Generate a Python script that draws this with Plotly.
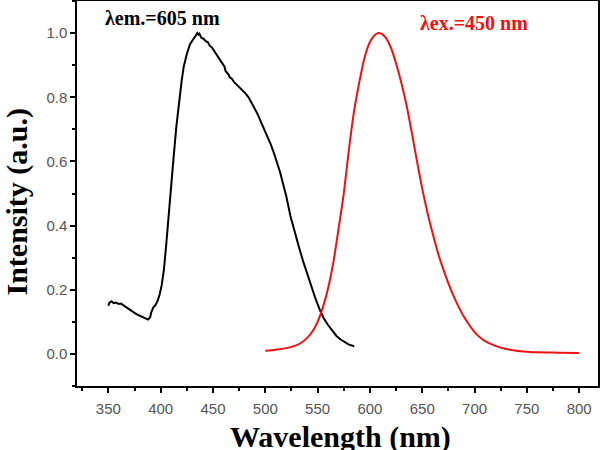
import plotly.graph_objects as go

# Excitation spectrum (black), monitored at 605 nm
black_x = [350, 351, 353, 355, 357, 360, 362, 365, 368, 371, 375, 378, 381, 384, 386, 388,
           390, 391, 393, 395, 397, 399, 401, 403, 405, 407, 409, 412, 415, 418, 420, 422,
           425, 428, 431, 433, 435, 436, 437, 439, 441, 443, 445, 447, 449, 451, 453, 455,
           457, 459, 461, 462, 464, 465, 466, 468, 470, 472, 475, 478, 481, 484, 487, 490,
           493, 496, 499, 502, 505, 508, 511, 514, 517, 520, 524, 528, 532, 536, 540, 544,
           548, 552, 556, 560, 564, 568, 572, 576, 580, 585]
black_y = [0.150, 0.160, 0.164, 0.158, 0.160, 0.156, 0.157, 0.150, 0.142, 0.135, 0.128, 0.122,
           0.118, 0.112, 0.110, 0.107, 0.115, 0.130, 0.145, 0.152, 0.165, 0.185, 0.215, 0.260,
           0.330, 0.400, 0.480, 0.600, 0.710, 0.800, 0.850, 0.895, 0.935, 0.965, 0.982, 0.990,
           1.000, 0.995, 0.998, 0.985, 0.982, 0.975, 0.972, 0.960, 0.955, 0.945, 0.935, 0.928,
           0.915, 0.905, 0.895, 0.882, 0.875, 0.870, 0.862, 0.858, 0.848, 0.842, 0.832, 0.822,
           0.812, 0.800, 0.782, 0.762, 0.745, 0.722, 0.700, 0.680, 0.655, 0.628, 0.600, 0.568,
           0.530, 0.492, 0.430, 0.380, 0.335, 0.290, 0.250, 0.210, 0.172, 0.138, 0.110, 0.090,
           0.072, 0.056, 0.045, 0.036, 0.029, 0.024]

# Emission spectrum (red), excited at 450 nm
red_x = [500, 510, 520, 528, 534, 540, 545, 550, 555, 560, 565, 570, 575, 580, 585, 590,
         595, 600, 605, 609, 614, 620, 625, 630, 635, 640, 645, 650, 655, 660, 665, 670,
         675, 680, 685, 690, 695, 700, 705, 710, 720, 730, 740, 750, 760, 780, 800]
red_y = [0.010, 0.013, 0.018, 0.025, 0.034, 0.050, 0.070, 0.100, 0.145, 0.205, 0.285, 0.390,
         0.500, 0.640, 0.760, 0.850, 0.925, 0.972, 0.995, 1.000, 0.990, 0.955, 0.905, 0.845,
         0.775, 0.690, 0.600, 0.515, 0.440, 0.375, 0.315, 0.265, 0.220, 0.180, 0.145, 0.115,
         0.090, 0.068, 0.052, 0.040, 0.025, 0.015, 0.010, 0.007, 0.005, 0.004, 0.003]

x_ticks = [350, 400, 450, 500, 550, 600, 650, 700, 750, 800]
y_ticks = [0.0, 0.2, 0.4, 0.6, 0.8, 1.0]

x_title = "Wavelength (nm)"
y_title = "Intensity (a.u.)"

fig = go.Figure()
fig.add_trace(go.Scatter(x=black_x, y=black_y, mode="lines",
                         line=dict(color="black", width=2), showlegend=False))
fig.add_trace(go.Scatter(x=red_x, y=red_y, mode="lines",
                         line=dict(color="#ee1111", width=2, shape="spline", smoothing=0.6),
                         showlegend=False))

axis_common = dict(showline=True, linecolor="black", linewidth=1.5, mirror=True,
                   ticks="outside", ticklen=5, tickwidth=1.5, tickcolor="black",
                   showgrid=False, zeroline=False, automargin=False,
                   tickfont=dict(family="Liberation Sans, Arial", size=15, color="#555"))

fig.update_xaxes(range=[320, 818], tickvals=x_ticks, ticklabelstandoff=3,
                 minor=dict(dtick=25, ticks="outside", ticklen=3, tickwidth=1.5, tickcolor="black"),
                 **axis_common)
fig.update_yaxes(range=[-0.1, 1.1], tickvals=y_ticks, tickformat=".1f",
                 minor=dict(dtick=0.1, ticks="outside", ticklen=3, tickwidth=1.5, tickcolor="black"),
                 **axis_common)

title_font = dict(family="Liberation Serif, Times New Roman", size=30, color="black")
fig.add_annotation(xref="paper", yref="paper", x=0.505, y=-0.083, xanchor="center", yanchor="top",
                   text="<b>" + x_title + "</b>", showarrow=False, font=title_font)
fig.add_annotation(xref="paper", yref="paper", x=-0.116, y=0.478, xanchor="center", yanchor="middle",
                   text="<b>" + y_title + "</b>", showarrow=False, textangle=-90, font=title_font)

fig.add_annotation(xref="paper", yref="paper", x=0.05, y=0.956, xanchor="left", yanchor="middle",
                   text="<b>λem.=605 nm</b>", showarrow=False,
                   font=dict(family="Liberation Serif, Times New Roman", size=20, color="black"))
fig.add_annotation(xref="paper", yref="paper", x=0.6545, y=0.943, xanchor="left", yanchor="middle",
                   text="<b>λex.=450 nm</b>", showarrow=False,
                   font=dict(family="Liberation Serif, Times New Roman", size=20, color="#ee1111"))

fig.update_layout(width=600, height=450, margin=dict(l=77, r=2, t=1, b=64),
                  plot_bgcolor="white", paper_bgcolor="white")

fig.write_html("out.html")
